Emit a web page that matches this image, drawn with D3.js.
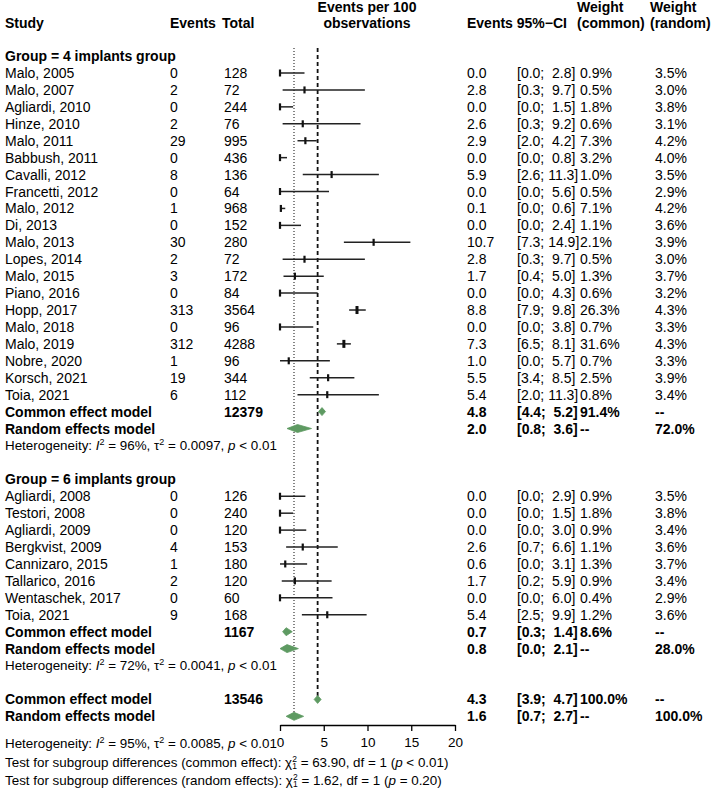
<!DOCTYPE html>
<html><head><meta charset="utf-8">
<script src="https://cdn.jsdelivr.net/npm/d3@7"></script>
<style>body{margin:0;background:#fff} text{font-family:"Liberation Sans",Arial,sans-serif;fill:#000}</style>
</head><body><svg id="c" width="719" height="791"></svg>
<script>
// ---- Group 1: 4 implants ----
const g1Study = ["Malo, 2005","Malo, 2007","Agliardi, 2010","Hinze, 2010","Malo, 2011","Babbush, 2011","Cavalli, 2012","Francetti, 2012","Malo, 2012","Di, 2013","Malo, 2013","Lopes, 2014","Malo, 2015","Piano, 2016","Hopp, 2017","Malo, 2018","Malo, 2019","Nobre, 2020","Korsch, 2021","Toia, 2021"];
const g1Events = [0,2,0,2,29,0,8,0,1,0,30,2,3,0,313,0,312,1,19,6];
const g1Total = [128,72,244,76,995,436,136,64,968,152,280,72,172,84,3564,96,4288,96,344,112];
const g1Est = [0.0,2.8,0.0,2.6,2.9,0.0,5.9,0.0,0.1,0.0,10.7,2.8,1.7,0.0,8.8,0.0,7.3,1.0,5.5,5.4];
const g1Lo = [0.0,0.3,0.0,0.3,2.0,0.0,2.6,0.0,0.0,0.0,7.3,0.3,0.4,0.0,7.9,0.0,6.5,0.0,3.4,2.0];
const g1Hi = [2.8,9.7,1.5,9.2,4.2,0.8,11.3,5.6,0.6,2.4,14.9,9.7,5.0,4.3,9.8,3.8,8.1,5.7,8.5,11.3];
const g1Wc = [0.9,0.5,1.8,0.6,7.3,3.2,1.0,0.5,7.1,1.1,2.1,0.5,1.3,0.6,26.3,0.7,31.6,0.7,2.5,0.8];
const g1Wr = [3.5,3.0,3.8,3.1,4.2,4.0,3.5,2.9,4.2,3.6,3.9,3.0,3.7,3.2,4.3,3.3,4.3,3.3,3.9,3.4];
// ---- Group 2: 6 implants ----
const g2Study = ["Agliardi, 2008","Testori, 2008","Agliardi, 2009","Bergkvist, 2009","Cannizaro, 2015","Tallarico, 2016","Wentaschek, 2017","Toia, 2021"];
const g2Events = [0,0,0,4,1,2,0,9];
const g2Total = [126,240,120,153,180,120,60,168];
const g2Est = [0.0,0.0,0.0,2.6,0.6,1.7,0.0,5.4];
const g2Lo = [0.0,0.0,0.0,0.7,0.0,0.2,0.0,2.5];
const g2Hi = [2.9,1.5,3.0,6.6,3.1,5.9,6.0,9.9];
const g2Wc = [0.9,1.8,0.9,1.1,1.3,0.9,0.4,1.2];
const g2Wr = [3.5,3.8,3.4,3.6,3.7,3.4,2.9,3.6];
// ---- pooled estimates: [est, lo, hi] ----
const g1Common = [4.8,4.4,5.2], g1Random = [2.0,0.8,3.6], g1CommonN = 12379, g1WcTot = "91.4%", g1WrTot = "72.0%";
const g2Common = [0.7,0.3,1.4], g2Random = [0.8,0.0,2.1], g2CommonN = 1167, g2WcTot = "8.6%", g2WrTot = "28.0%";
const allCommon = [4.3,3.9,4.7], allRandom = [1.6,0.7,2.7], allCommonN = 13546;
const g1Het = ["96%","0.0097","< 0.01"], g2Het = ["72%","0.0041","< 0.01"], allHet = ["95%","0.0085","< 0.01"];
const testCommon = ["63.90","1","< 0.01"], testRandom = ["1.62","1","= 0.20"];
const groupLabels = ["Group = 4 implants group","Group = 6 implants group"];
const xTicks = [0,5,10,15,20];

const svg = d3.select("#c");
const FS = 14, SFS = 13.4;
const x = d3.scaleLinear().domain([0,20]).range([280,455]);
const rowY = d3.scaleLinear().domain([0,1]).range([73,73+16.93]);
const C = {study:5, events:170, total:224, est:467, ci:517, wc:580, wr:655};

function txt(xp, yc, s, opt={}) {
  return svg.append("text").attr("x",xp).attr("y",yc+ (opt.fs||FS)*0.36)
    .attr("font-size",opt.fs||FS).attr("font-weight",opt.bold?"bold":"normal")
    .attr("text-anchor",opt.anchor||"start").style("white-space","pre").text(s);
}
const f1 = v => v.toFixed(1);
function ciStr(lo,hi){ const h=f1(hi); return "[" + f1(lo) + "; " + (h.length<4?" ":"") + h + "]"; }

// headers
const H1 = 7, H2 = 23;
txt(C.study,H2,"Study",{bold:true});
txt(C.events,H2,"Events",{bold:true});
txt(C.total-2,H2,"Total",{bold:true});
txt(367,H1,"Events per 100",{bold:true,anchor:"middle"});
txt(367,H2,"observations",{bold:true,anchor:"middle"});
txt(C.est,H2,"Events 95%\u2212CI",{bold:true});
txt(C.wc-3,H1,"Weight",{bold:true});
txt(C.wc-3,H2,"(common)",{bold:true});
txt(C.wr-5,H1,"Weight",{bold:true});
txt(C.wr-5,H2,"(random)",{bold:true});

// reference lines
svg.append("line").attr("x1",x(allRandom[0])).attr("x2",x(allRandom[0])).attr("y1",48).attr("y2",rowY(38)+3)
  .attr("stroke","#222").attr("stroke-width",1.1).attr("stroke-dasharray","1,2");
svg.append("line").attr("x1",x(allCommon[0])).attr("x2",x(allCommon[0])).attr("y1",48).attr("y2",rowY(37)-2)
  .attr("stroke","#111").attr("stroke-width",1.8).attr("stroke-dasharray","4,3");

function hetText(yc, vals) {
  const t = svg.append("text").attr("x",C.study).attr("y",yc+SFS*0.36).attr("font-size",SFS);
  t.append("tspan").text("Heterogeneity: ");
  t.append("tspan").attr("font-style","italic").text("I");
  t.append("tspan").attr("font-size",9).attr("dy",-5).text("2");
  t.append("tspan").attr("dy",5).text(" = " + vals[0] + ", \u03c4");
  t.append("tspan").attr("font-size",9).attr("dy",-5).text("2");
  t.append("tspan").attr("dy",5).text(" = " + vals[1] + ", ");
  t.append("tspan").attr("font-style","italic").text("p");
  t.append("tspan").text(" " + vals[2]);
}
function testText(yc, label, vals) {
  const t = svg.append("text").attr("x",C.study).attr("y",yc+SFS*0.36).attr("font-size",SFS);
  t.append("tspan").text("Test for subgroup differences (" + label + "): \u03c7");
  t.append("tspan").attr("font-size",8.5).attr("dy",-5).text("2");
  t.append("tspan").attr("font-size",8.5).attr("dx",-4.7).attr("dy",7.5).text("1");
  t.append("tspan").attr("dy",-2.5).text(" = " + vals[0] + ", df = " + vals[1] + " (");
  t.append("tspan").attr("font-style","italic").text("p");
  t.append("tspan").text(" " + vals[2] + ")");
}

function diamond(yc, v) {
  const h = 4;
  const pts = [[x(v[1]),yc],[x(v[0]),yc-h],[x(v[2]),yc],[x(v[0]),yc+h]];
  svg.append("path").attr("d", d3.line()(pts) + "Z").attr("fill","#5e9a62").attr("stroke","#5e9a62").attr("stroke-width",0.8);
}

function group(start, label, S, E, T, est, lo, hi, wc, wr, com, ran, comN, wcT, wrT, het) {
  txt(C.study, rowY(start-1), label, {bold:true});
  S.forEach((s,i) => {
    const yc = rowY(start+i);
    txt(C.study,yc,s); txt(C.events,yc,String(E[i])); txt(C.total,yc,String(T[i]));
    txt(C.est,yc,f1(est[i])); txt(C.ci,yc,ciStr(lo[i],hi[i]));
    txt(C.wc,yc,f1(wc[i])+"%"); txt(C.wr,yc,f1(wr[i])+"%");
    svg.append("line").attr("x1",x(lo[i])).attr("x2",x(hi[i])).attr("y1",yc).attr("y2",yc)
      .attr("stroke","#222").attr("stroke-width",1.5);
    const big = wc[i] > 20;
    const w = big ? 3 : 2.2, hh = big ? 8 : 7;
    svg.append("rect").attr("x",x(est[i])-w/2).attr("y",yc-hh/2).attr("width",w).attr("height",hh).attr("fill","#111");
  });
  const rc = start + S.length, rr = rc + 1;
  txt(C.study,rowY(rc),"Common effect model",{bold:true});
  txt(C.total,rowY(rc),String(comN),{bold:true});
  txt(C.est,rowY(rc),f1(com[0]),{bold:true}); txt(C.ci,rowY(rc),ciStr(com[1],com[2]),{bold:true});
  txt(C.wc,rowY(rc),wcT,{bold:true}); txt(C.wr,rowY(rc),"--",{bold:true});
  diamond(rowY(rc), com);
  txt(C.study,rowY(rr),"Random effects model",{bold:true});
  txt(C.est,rowY(rr),f1(ran[0]),{bold:true}); txt(C.ci,rowY(rr),ciStr(ran[1],ran[2]),{bold:true});
  txt(C.wc,rowY(rr),"--",{bold:true}); txt(C.wr,rowY(rr),wrT,{bold:true});
  diamond(rowY(rr), ran);
  hetText(rowY(rr+1), het);
}

group(0, groupLabels[0], g1Study, g1Events, g1Total, g1Est, g1Lo, g1Hi, g1Wc, g1Wr, g1Common, g1Random, g1CommonN, g1WcTot, g1WrTot, g1Het);
group(25, groupLabels[1], g2Study, g2Events, g2Total, g2Est, g2Lo, g2Hi, g2Wc, g2Wr, g2Common, g2Random, g2CommonN, g2WcTot, g2WrTot, g2Het);

// overall
const ro = 37;
txt(C.study,rowY(ro),"Common effect model",{bold:true});
txt(C.total,rowY(ro),String(allCommonN),{bold:true});
txt(C.est,rowY(ro),f1(allCommon[0]),{bold:true}); txt(C.ci,rowY(ro),ciStr(allCommon[1],allCommon[2]),{bold:true});
txt(C.wc,rowY(ro),"100.0%",{bold:true}); txt(C.wr,rowY(ro),"--",{bold:true});
diamond(rowY(ro), allCommon);
txt(C.study,rowY(ro+1),"Random effects model",{bold:true});
txt(C.est,rowY(ro+1),f1(allRandom[0]),{bold:true}); txt(C.ci,rowY(ro+1),ciStr(allRandom[1],allRandom[2]),{bold:true});
txt(C.wc,rowY(ro+1),"--",{bold:true}); txt(C.wr,rowY(ro+1),"100.0%",{bold:true});
diamond(rowY(ro+1), allRandom);

// axis
const ax = svg.append("g").attr("transform","translate(0,725)")
  .call(d3.axisBottom(x).tickValues(xTicks).tickSize(6).tickSizeOuter(0).tickFormat(d3.format("d")));
ax.select(".domain").attr("stroke","#000").attr("stroke-width",1.3);
ax.selectAll(".tick line").attr("stroke","#000").attr("stroke-width",1.3);
ax.selectAll(".tick text").attr("font-size",13.5).attr("font-family","Liberation Sans, Arial, sans-serif").attr("dy","0.95em").attr("fill","#000");

hetText(743, allHet);
testText(762, "common effect", testCommon);
testText(780, "random effects", testRandom);
</script></body></html>
